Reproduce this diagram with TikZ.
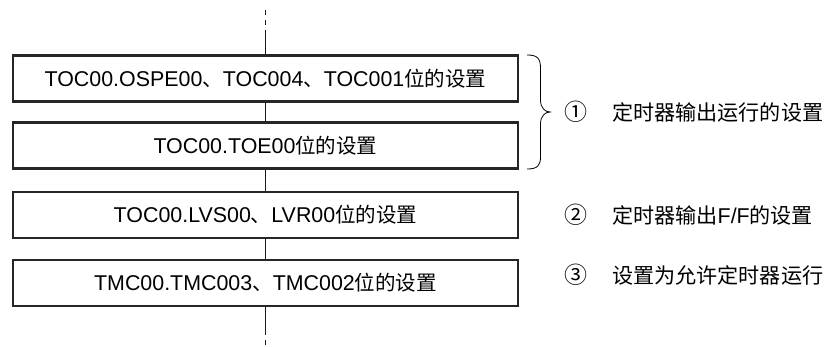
\documentclass[tikz,border=0pt]{standalone}
\usepackage{fontspec}
\setmainfont{Liberation Sans}
\newfontfamily\cjk{Noto Sans CJK SC}
\newcommand{\zh}[1]{{\cjk\fontsize{20.5pt}{24pt}\selectfont #1}}
\begin{document}
\begin{tikzpicture}[x=1pt,y=-1pt,
  stepbox/.style={draw=black!85,line width=2.2pt,minimum width=505pt,minimum height=46pt,inner sep=0pt,
    font=\fontsize{21.4pt}{25pt}\selectfont},
  link/.style={line width=0.9pt,black!90},
  note/.style={anchor=west,inner sep=0pt,font=\cjk\fontsize{21.1pt}{24pt}\selectfont},
  num/.style={anchor=center,inner sep=0pt,font=\cjk\fontsize{23pt}{26pt}\selectfont}]
\useasboundingbox (0,0) rectangle (824,347);
\node[stepbox] (b1) at (265.5,78.5) {TOC00.OSPE00\zh{、}TOC004\zh{、}TOC001\zh{位的设置}};
\node[stepbox] (b2) at (265.5,145.5) {TOC00.TOE00\zh{位的设置}};
\node[stepbox] (b3) at (265.5,215) {TOC00.LVS00\zh{、}LVR00\zh{位的设置}};
\node[stepbox] (b4) at (265.5,283) {TMC00.TMC003\zh{、}TMC002\zh{位的设置}};
\coordinate (t0) at (265.5,10);
\coordinate (t1) at (265.5,31);
\coordinate (e1) at (265.5,334);
\coordinate (e0) at (265.5,347);
\draw[link,dash pattern=on 5pt off 5pt] (t0) -- (t1);
\draw[link] (t1) -- (b1.north);
\draw[link] (b1.south) -- (b2.north);
\draw[link] (b2.south) -- (b3.north);
\draw[link] (b3.south) -- (b4.north);
\draw[link] (b4.south) -- (e1);
\draw[link,dash pattern=on 5pt off 5pt] ([yshift=4pt]e1) -- (e0);
\coordinate (br1) at (527,55);
\coordinate (br2) at (527,169);
\coordinate (tip) at (550,112);
\draw[line width=0.8pt] (br1) .. controls (537,55) and (540.5,58) .. (540.5,68) -- (540.5,100)
  .. controls (540.5,108) and (545,112) .. (tip)
  .. controls (545,112) and (540.5,116) .. (540.5,124) -- (540.5,157)
  .. controls (540.5,166) and (537,169) .. (br2);
\node[num] (n1) at (576,112) {①};
\node[note] (l1) at (612,112) {定时器输出运行的设置};
\node[num] (n2) at (576,215) {②};
\node[note] (l2) at (612,215) {定时器输出{\fontspec{Liberation Sans}\fontsize{21.4pt}{24pt}\selectfont F/F}的设置};
\node[num] (n3) at (576,275) {③};
\node[note] (l3) at (612,275) {设置为允许定时器运行};
\end{tikzpicture}
\end{document}
